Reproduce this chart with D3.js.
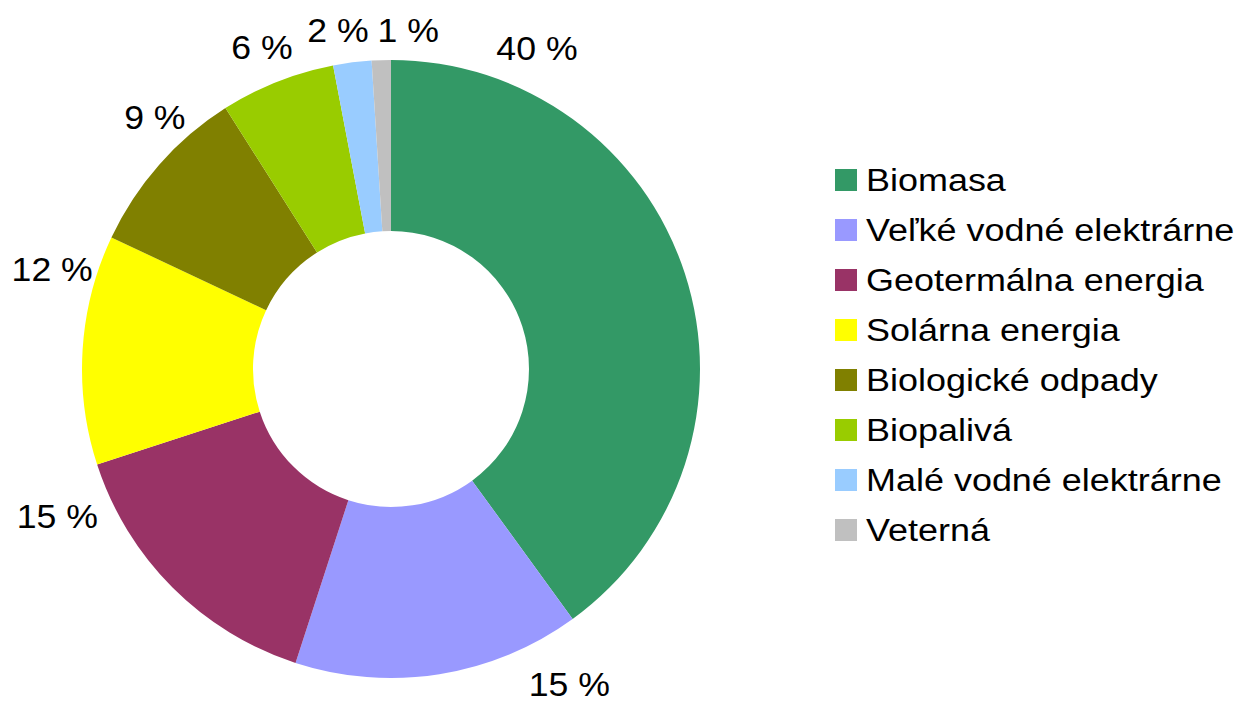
<!DOCTYPE html>
<html><head><meta charset="utf-8">
<script src="https://cdn.jsdelivr.net/npm/d3@7"></script>
<style>body{margin:0;background:#fff}svg{display:block}text{font-family:"Liberation Sans",Arial,sans-serif;fill:#000}</style>
</head><body><svg id="c" width="1238" height="701"></svg>
<script>
const categories = ["Biomasa","Veľké vodné elektrárne","Geotermálna energia","Solárna energia","Biologické odpady","Biopalivá","Malé vodné elektrárne","Veterná"];
const values = [40,15,15,12,9,6,2,1];
const valueLabels = ["40 %","15 %","15 %","12 %","9 %","6 %","2 %","1 %"];
const colors = ["#339966","#9999FF","#993366","#FFFF00","#808000","#99CC00","#99CCFF","#C0C0C0"];
// layout only: label placement (degrees clockwise from top, distance from centre)
const labelAngleDeg = [24.5,150.5,246.1,286.3,316.8,338.1,351.1,2.9];
const labelDist = [352,362,365,353,345,346,343,339];

const svg = d3.select("#c");
const cx = 391, cy = 369, R = 309, r0 = 138;
const pie = d3.pie().sort(null).value(d=>d);
const arc = d3.arc().innerRadius(r0).outerRadius(R);
const g = svg.append("g").attr("transform",`translate(${cx},${cy})`);
const arcs = pie(values);
g.selectAll("path").data(arcs).join("path").attr("d",arc).attr("fill",(d,i)=>colors[i]);
g.selectAll("text.lbl").data(arcs).join("text").attr("class","lbl")
  .attr("transform",(d,i)=>`translate(${labelDist[i]*Math.sin(labelAngleDeg[i]*Math.PI/180)},${-labelDist[i]*Math.cos(labelAngleDeg[i]*Math.PI/180)}) scale(1.08,1)`)
  .attr("text-anchor","middle").attr("dominant-baseline","central")
  .style("font-size","33px").text((d,i)=>valueLabels[i]);

const leg = svg.append("g").attr("transform","translate(835,180)");
const y = d3.scalePoint().domain(categories).range([0,350]);
const items = leg.selectAll("g").data(categories).join("g").attr("transform",d=>`translate(0,${y(d)})`);
items.append("rect").attr("x",0).attr("y",-11).attr("width",22).attr("height",22).attr("fill",(d,i)=>colors[i]);
items.append("text").attr("transform","translate(31,0) scale(1.16,1)").attr("dominant-baseline","central").style("font-size","31px").text(d=>d);
</script></body></html>
